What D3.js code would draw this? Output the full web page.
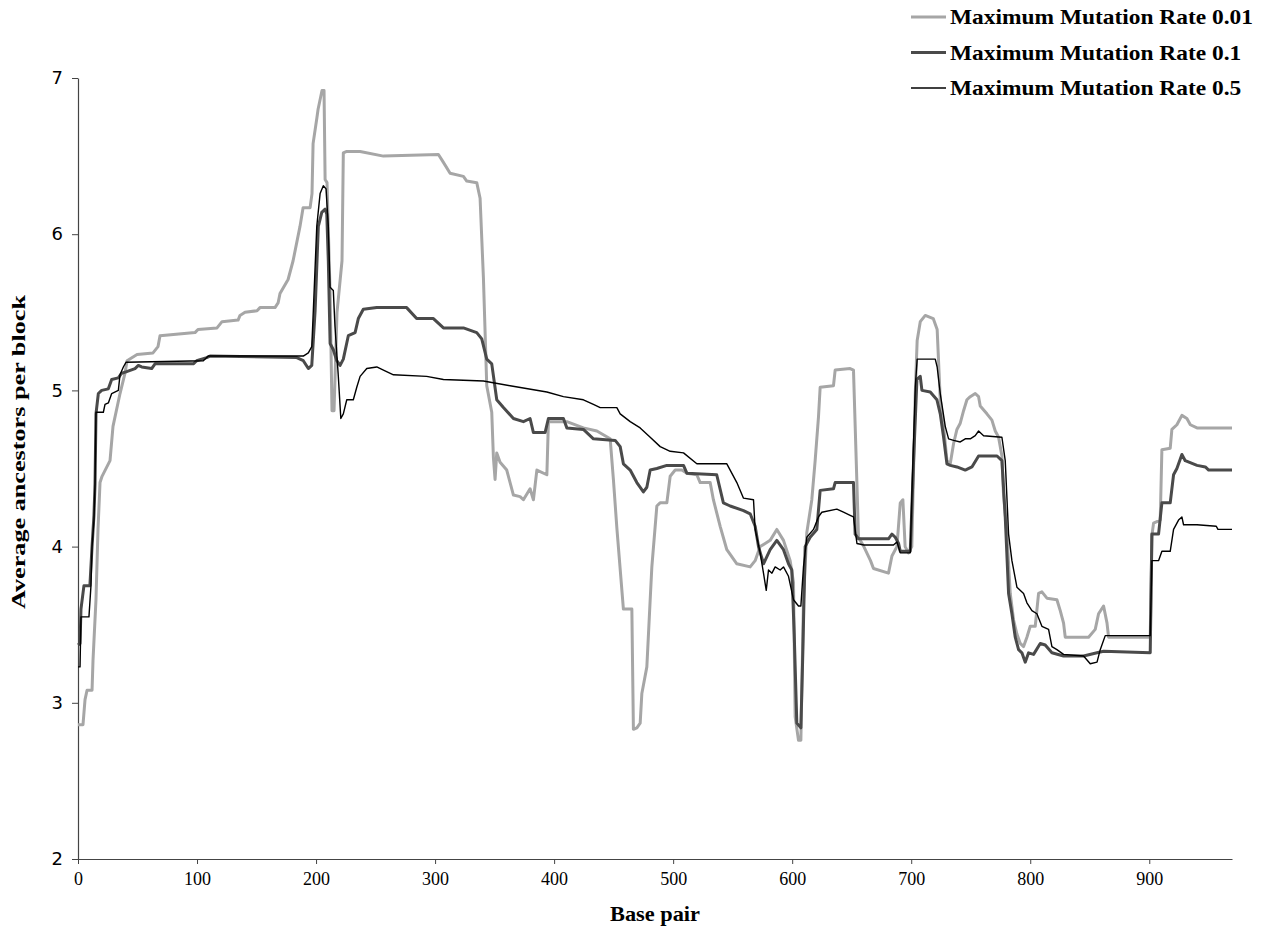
<!DOCTYPE html>
<html>
<head>
<meta charset="utf-8">
<script src="https://cdn.jsdelivr.net/npm/d3@7"></script>
<style>
  html, body { margin: 0; padding: 0; background: #fff; }
  svg { display: block; }
</style>
</head>
<body>
<svg id="chart" width="1262" height="930"></svg>
<script>
// ---------- data (base pair, average ancestors per block) ----------
const seriesNames = ["Maximum Mutation Rate 0.01", "Maximum Mutation Rate 0.1", "Maximum Mutation Rate 0.5"];
const xTicks = [0, 100, 200, 300, 400, 500, 600, 700, 800, 900];
const yTicks = [2, 3, 4, 5, 6, 7];

const rate001 = [
  [0,2.86],[4.2,2.86],[5.9,3.02],[7.6,3.08],[11.8,3.08],[12.6,3.27],[15.1,3.66],[16.8,4.11],[18.5,4.41],[20.2,4.45],
  [26.9,4.55],[29.4,4.77],[35.3,4.98],[39.5,5.11],[41.2,5.19],[49.6,5.23],[63,5.24],[67.2,5.28],[68.9,5.35],[98.3,5.37],
  [100.8,5.39],[116.8,5.40],[121,5.44],[134.5,5.45],[136.1,5.48],[140.3,5.50],[150.4,5.51],[152.9,5.53],[165.5,5.53],[168.1,5.56],
  [169.7,5.62],[176.5,5.71],[180.7,5.83],[186.5,6.05],[189.1,6.17],[195,6.17],[196.6,6.26],[197.5,6.58],[200.8,6.75],[201.7,6.80],
  [205,6.92],[206.7,6.92],[207.6,6.35],[209.2,6.33],[211.8,5.62],[213.4,4.87],[215.1,4.87],[217.6,5.50],[221.8,5.83],[222.9,6.52],
  [225.8,6.53],[237,6.53],[256.6,6.50],[302.8,6.51],[307,6.46],[312.6,6.39],[323.8,6.37],[326.6,6.34],[335,6.33],[337.8,6.23],
  [340.6,5.72],[343.4,5.03],[347.6,4.86],[349,4.57],[350.4,4.43],[351.8,4.60],[354.6,4.54],[360.2,4.49],[365.8,4.33],[371.4,4.32],
  [374.2,4.30],[379.8,4.37],[382.6,4.30],[385.5,4.49],[393.9,4.46],[395.2,4.80],[410.7,4.80],[424.6,4.76],[435.9,4.74],[447.1,4.69],
  [449.8,4.43],[452.7,4.12],[458.2,3.60],[465.3,3.60],[466.6,2.83],[469.5,2.84],[472.3,2.87],[473.7,3.06],[477.9,3.23],[480.7,3.66],
  [482.1,3.87],[486.3,4.26],[489,4.28],[494.7,4.28],[497.5,4.45],[501.7,4.49],[507.3,4.49],[511.5,4.47],[519.9,4.46],[522.7,4.41],
  [531.1,4.41],[533.8,4.30],[539.5,4.13],[545.1,3.98],[553.5,3.89],[564.7,3.87],[568.9,3.91],[573.1,4.00],[577.3,4.02],[581.5,4.04],
  [587.1,4.11],[592.7,4.04],[598.3,3.91],[601.1,3.77],[602.5,2.91],[605.3,2.76],[607.3,2.76],[609.5,3.66],[612.3,4.09],[616.5,4.30],
  [619.3,4.55],[622.1,4.83],[623.5,5.02],[634.7,5.03],[636.1,5.13],[648.7,5.14],[651.5,5.13],[654.4,4.40],[655.7,4.06],[660.2,4.00],
  [665.8,3.91],[668.3,3.86],[680.9,3.83],[683.8,3.94],[688,4.00],[690.8,4.28],[693,4.30],[694.9,4.00],[697.7,3.96],[700.5,4.00],
  [703.4,4.98],[705,5.32],[707.6,5.44],[711.8,5.48],[718.5,5.46],[721.8,5.39],[724.4,4.94],[727.2,4.77],[730,4.55],[732.8,4.53],
  [735.6,4.66],[738.4,4.75],[741.2,4.79],[744,4.87],[746.8,4.94],[749.6,4.96],[753.8,4.98],[756.6,4.96],[758,4.90],[763.6,4.85],
  [767.8,4.81],[770.6,4.74],[773.4,4.70],[776.2,4.58],[777.5,4.34],[780.4,4.08],[783.2,3.70],[786,3.53],[788.8,3.44],[791.6,3.38],
  [794.4,3.36],[797.2,3.42],[800,3.49],[804.2,3.49],[807,3.70],[809.8,3.71],[814,3.67],[822.4,3.66],[825.2,3.59],[828,3.51],
  [829.4,3.42],[849,3.42],[854.6,3.47],[857.4,3.57],[861.6,3.62],[864.5,3.51],[865.8,3.42],[900.8,3.42],[902.2,4.07],[903.6,4.15],
  [909.2,4.17],[910.6,4.62],[917.6,4.63],[919,4.75],[923.2,4.78],[927.4,4.84],[931.6,4.82],[934.5,4.78],[940.1,4.76],[969.5,4.76]
];

const rate01 = [
  [0,3.37],[1.7,3.38],[2.5,3.60],[5,3.75],[10,3.75],[11.8,4.0],[13.4,4.2],[14.3,4.4],[15.1,4.85],[17.1,4.98],
  [19.9,5.00],[25.5,5.01],[28.3,5.07],[33.9,5.08],[36.7,5.11],[40.9,5.12],[47.9,5.14],[50.7,5.16],[53.5,5.15],[61.9,5.14],
  [64.7,5.17],[96.9,5.17],[99.7,5.19],[108.1,5.21],[110.9,5.22],[183.8,5.21],[189.3,5.19],[193.5,5.14],[196.4,5.16],[199.2,5.51],
  [201.9,6.05],[204.8,6.14],[207.6,6.16],[209,6.13],[210.3,5.83],[211.8,5.30],[214.5,5.26],[217.4,5.19],[220.2,5.16],[222.9,5.20],
  [227.1,5.35],[232.8,5.37],[235.5,5.46],[239.7,5.52],[251,5.53],[276.1,5.53],[284.5,5.46],[298.6,5.46],[307,5.40],[323.8,5.40],
  [335,5.37],[339.2,5.33],[343.4,5.20],[347.6,5.17],[351.8,4.94],[357.4,4.89],[365.8,4.82],[374.2,4.80],[379.8,4.82],[382.6,4.73],
  [392.4,4.73],[395.2,4.82],[407.8,4.82],[410.7,4.76],[424.6,4.75],[433,4.69],[451.3,4.68],[455.5,4.64],[458.2,4.53],[463.9,4.49],
  [469.5,4.41],[475,4.35],[477.9,4.38],[480.7,4.49],[486.3,4.50],[494.7,4.52],[508.7,4.52],[511.5,4.47],[536.6,4.46],[542.2,4.28],
  [547.9,4.26],[559.1,4.23],[564.7,4.21],[568.9,4.13],[571.7,4.00],[575.9,3.89],[581.5,3.98],[587.1,4.04],[592.7,3.98],[596.9,3.89],
  [599.7,3.85],[601.7,3.44],[603.9,2.87],[607.3,2.84],[609,3.34],[610.9,4.00],[615.1,4.06],[620.7,4.11],[623.5,4.36],[634.7,4.37],
  [636.1,4.41],[651.5,4.41],[652.9,4.08],[655.7,4.05],[680.9,4.05],[683.8,4.08],[686.6,4.06],[689.4,4.02],[690.8,3.97],[699.2,3.97],
  [702,4.55],[704.8,5.07],[707.6,5.09],[709,5.00],[716,4.99],[721.6,4.94],[724.4,4.85],[727.2,4.70],[730,4.53],[732.8,4.52],
  [738.4,4.51],[745.4,4.49],[751,4.51],[756.6,4.58],[772.1,4.58],[776.2,4.55],[779,4.19],[781.8,3.70],[784.6,3.57],[787.4,3.42],
  [790.2,3.34],[793,3.32],[795.8,3.26],[798.6,3.32],[802.8,3.31],[808.4,3.38],[812.6,3.37],[818.2,3.32],[828,3.30],[844.8,3.30],
  [856.1,3.32],[861.6,3.33],[900.8,3.32],[902.2,4.08],[907.8,4.08],[910.6,4.28],[917.6,4.28],[920.4,4.46],[923.2,4.50],[927.4,4.59],
  [930.2,4.55],[940.1,4.52],[947.1,4.51],[949.9,4.49],[969.5,4.49]
];

const rate05 = [
  [0,3.23],[1.7,3.23],[2.5,3.55],[9.2,3.55],[10.9,3.75],[11.8,4.0],[13.4,4.17],[14.3,4.4],[15.1,4.86],[21.3,4.86],
  [22.7,4.91],[25.5,4.92],[28.3,4.98],[33.9,5.00],[35.3,5.10],[38.1,5.15],[40.3,5.18],[105.3,5.19],[109.5,5.22],[189.3,5.22],
  [193.5,5.24],[196.4,5.28],[197.7,5.51],[200.6,6.05],[203.4,6.26],[206.1,6.31],[208.4,6.29],[210.3,6.05],[211.8,5.66],[214.5,5.64],
  [215.9,5.41],[218.7,5.09],[220.8,4.82],[222.9,4.85],[225.8,4.94],[231.3,4.94],[234.2,5.02],[237,5.09],[242.6,5.14],[251,5.15],
  [256.6,5.13],[265,5.10],[292.9,5.09],[307,5.07],[340.6,5.06],[363,5.03],[393.9,4.99],[407.8,4.96],[424.6,4.94],[433,4.91],
  [438.7,4.89],[452.7,4.89],[455.5,4.85],[463.9,4.80],[472.3,4.76],[480.7,4.70],[489.1,4.64],[497.5,4.61],[508.7,4.60],[519.9,4.53],
  [545.1,4.53],[553.5,4.41],[559.1,4.31],[567.5,4.30],[568.9,4.11],[573.1,3.96],[575.9,3.83],[578.2,3.72],[580.1,3.85],[583,3.83],
  [585.7,3.87],[589.9,3.85],[592.7,3.87],[596.9,3.81],[601.1,3.66],[605.3,3.62],[607.3,3.62],[609.5,3.87],[612.3,4.06],[617.9,4.11],
  [622.1,4.19],[624.9,4.22],[637.5,4.24],[643.1,4.22],[648.7,4.20],[651.5,4.19],[654.4,4.02],[660.2,4.01],[685.1,4.01],[688,4.03],
  [690.8,3.96],[699.2,3.96],[700.6,4.34],[703.4,5.02],[705,5.20],[720.2,5.20],[721.8,5.15],[724.4,4.98],[728.6,4.77],[731.4,4.69],
  [735.6,4.68],[741.2,4.67],[745.4,4.69],[749.6,4.69],[753.8,4.71],[756.6,4.74],[760.8,4.71],[776.2,4.70],[779,4.55],[781.8,4.08],
  [784.6,3.91],[788.8,3.74],[794.4,3.70],[797.2,3.64],[801.4,3.59],[805.6,3.57],[809.8,3.49],[815.4,3.47],[818.2,3.36],[822.4,3.34],
  [828,3.31],[844.8,3.30],[850.4,3.25],[856.1,3.26],[858.8,3.34],[863,3.43],[900.8,3.43],[902.2,3.91],[907.8,3.91],[910.6,3.97],
  [917.6,3.97],[920.4,4.11],[924.6,4.17],[927.4,4.19],[928.8,4.14],[940.1,4.14],[956.3,4.13],[957.7,4.11],[969.5,4.11]
];

const seriesData = [rate001, rate01, rate05];
const seriesColors = ["#a6a6a6", "#4a4a4a", "#000000"];
const seriesWidths = [3, 3, 1.4];

// ---------- layout ----------
const svg = d3.select("#chart");
const margin = { left: 78, right: 1232, top: 78, bottom: 859 };

const x = d3.scaleLinear().domain([0, 969.5]).range([margin.left, margin.right]);
const y = d3.scaleLinear().domain([2, 7]).range([margin.bottom, margin.top]);

// axes
const axisColor = "#444";
const xAxis = svg.append("g")
  .attr("transform", `translate(0,${margin.bottom})`)
  .call(d3.axisBottom(x).tickValues(xTicks).tickSize(5).tickSizeOuter(0).tickPadding(8).tickFormat(d3.format("d")));
xAxis.select(".domain").attr("stroke", axisColor).attr("stroke-width", 1.2);
xAxis.selectAll(".tick line").attr("stroke", axisColor);
xAxis.selectAll(".tick text")
  .attr("font-family", "'Liberation Serif', 'Times New Roman', serif")
  .attr("font-size", 18).attr("fill", "#000");

const yAxis = svg.append("g")
  .attr("transform", `translate(${margin.left},0)`)
  .call(d3.axisLeft(y).tickValues(yTicks).tickSize(6).tickSizeOuter(0).tickPadding(9).tickFormat(d3.format("d")));
yAxis.select(".domain").attr("stroke", axisColor).attr("stroke-width", 1.2);
yAxis.selectAll(".tick line").attr("stroke", axisColor);
yAxis.selectAll(".tick text")
  .attr("font-family", "'DejaVu Sans', Verdana, sans-serif")
  .attr("font-size", 18).attr("fill", "#000");

// lines
const line = d3.line().x(d => x(d[0])).y(d => y(d[1])).curve(d3.curveLinear);
seriesData.forEach((data, i) => {
  svg.append("path")
    .datum(data)
    .attr("fill", "none")
    .attr("stroke", seriesColors[i])
    .attr("stroke-width", seriesWidths[i])
    .attr("stroke-linejoin", "round")
    .attr("d", line);
});

// axis titles
svg.append("text")
  .attr("x", (margin.left + margin.right) / 2)
  .attr("y", 921)
  .attr("text-anchor", "middle")
  .attr("font-family", "'Liberation Serif', 'Times New Roman', serif")
  .attr("font-weight", "bold")
  .attr("font-size", 22)
  .attr("textLength", 90)
  .attr("lengthAdjust", "spacingAndGlyphs")
  .text("Base pair");

svg.append("text")
  .attr("transform", `translate(25,452) rotate(-90)`)
  .attr("text-anchor", "middle")
  .attr("font-family", "'Liberation Serif', 'Times New Roman', serif")
  .attr("font-weight", "bold")
  .attr("font-size", 19)
  .attr("textLength", 314)
  .attr("lengthAdjust", "spacingAndGlyphs")
  .text("Average ancestors per block");

// legend
const legend = svg.append("g");
const legendTexts = [];
seriesNames.forEach((name, i) => {
  const ly = 17 + i * 35.5;
  legend.append("line")
    .attr("x1", 911).attr("x2", 946).attr("y1", ly).attr("y2", ly)
    .attr("stroke", seriesColors[i]).attr("stroke-width", seriesWidths[i]);
  legendTexts.push(legend.append("text")
    .attr("x", 950).attr("y", ly + 7)
    .attr("font-family", "'Liberation Serif', 'Times New Roman', serif")
    .attr("font-weight", "bold")
    .attr("font-size", 21)
    .text(name));
});
// stretch legend text so the longest label spans the same width as in the original
const baseLen = legendTexts[0].node().getComputedTextLength();
const k = 303 / baseLen;
legendTexts.forEach(t => {
  const len = t.node().getComputedTextLength();
  t.attr("textLength", len * k).attr("lengthAdjust", "spacingAndGlyphs");
});
</script>
</body>
</html>
